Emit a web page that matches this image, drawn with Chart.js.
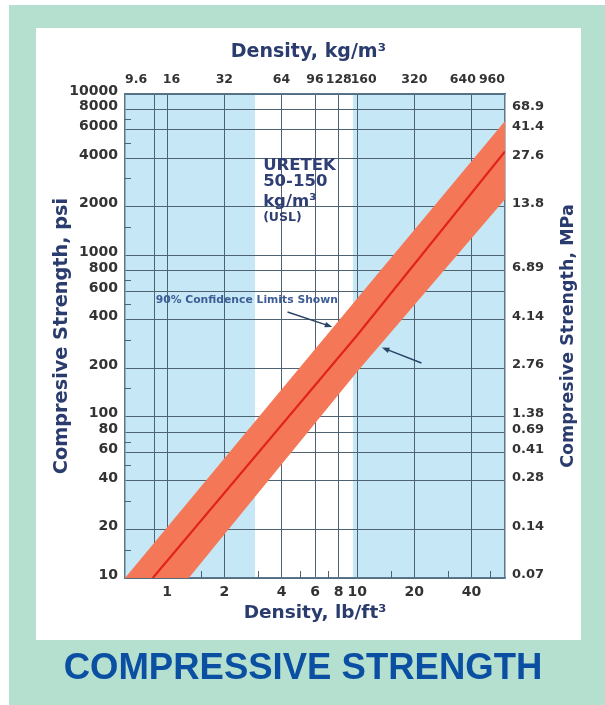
<!DOCTYPE html>
<html>
<head>
<meta charset="utf-8">
<title>Compressive Strength</title>
<script src="https://cdn.jsdelivr.net/npm/chart.js@4.4.1/dist/chart.umd.min.js"></script>
<style>
  html, body { margin: 0; padding: 0; background: #fff; }
  canvas { display: block; }
</style>
</head>
<body>
<canvas id="strengthChart" width="605" height="705"></canvas>
<script>
// nilai: densitas lb/ft3 vs kuat tekan psi
const densityTicks = [0.86, 1, 2, 4, 6, 8, 10, 20, 40];
const densityLabels = ["", "1", "2", "4", "6", "8", "10", "20", "40"];
const kgTicks = [0.6, 1, 2, 4, 6, 8, 10, 20, 40, 60];
const kgLabels = ["9.6", "  16", "32", "64", "96", "128", "   160", "320", "640    ", "960"];
const psiTicks = [10, 20, 40, 60, 80, 100, 200, 400, 600, 800, 1000, 2000, 4000, 6000, 8000, 10000];
const mpaTicks = [10, 20, 40, 60, 80, 100, 200, 400, 800, 2000, 4000, 6000, 8000];
const mpaLabels = ["0.07", "0.14", "0.28", "0.41", "0.69", "1.38", "2.76", "4.14", "6.89", "13.8", "27.6", "41.4", "68.9"];

const meanDensity = [0.84, 10, 60];
const meanPsi = [10, 320, 4400];
const upperDensity = [0.6, 10, 60];
const upperPsi = [10, 540, 6800];
const lowerDensity = [1.3, 10, 60];
const lowerPsi = [10, 190, 2230];

const uretekZone = [2.9, 9.5];
const minorDensity = [1.5, 3, 5, 7, 15, 30, 50];
const minorPsi = [15, 30, 50, 70, 150, 300, 500, 700, 1500, 3000, 5000, 7000];

const font = "'DejaVu Sans', sans-serif";
const arial = "'Liberation Sans', Arial, sans-serif";
const navy = "#2a3b6d";
const gridColor = "#4f6272";
const frameColor = "#5a778c";
const tickColor = "#333";

Chart.defaults.font.family = font;

const meanData = meanDensity.map((x, i) => ({ x: x, y: meanPsi[i] }));
const bandData = upperDensity.map((x, i) => ({ x: x, y: upperPsi[i] }))
    .concat(lowerDensity.map((x, i) => ({ x: x, y: lowerPsi[i] })).reverse());

// latar hijau, panel putih, area plot biru + pita putih URETEK
const latar = {
    id: "latar",
    beforeDraw(chart) {
        const { ctx, chartArea: a, scales } = chart;
        ctx.save();
        ctx.fillStyle = "#fff";
        ctx.fillRect(0, 0, chart.width, chart.height);
        ctx.fillStyle = "#b5e0d0";
        ctx.fillRect(9, 5, chart.width - 9, chart.height - 5);
        ctx.fillStyle = "#fff";
        ctx.fillRect(36, 28, 545, 612);
        ctx.fillStyle = "#c6e7f5";
        ctx.fillRect(a.left, a.top, a.width, a.height);
        const x0 = scales.x.getPixelForValue(uretekZone[0]);
        const x1 = scales.x.getPixelForValue(uretekZone[1]);
        ctx.fillStyle = "#fff";
        ctx.fillRect(x0, a.top, x1 - x0, a.height);
        ctx.restore();
    }
};

function panah(ctx, x0, y0, x1, y1) {
    const ang = Math.atan2(y1 - y0, x1 - x0);
    ctx.beginPath();
    ctx.moveTo(x0, y0);
    ctx.lineTo(x1 - 5 * Math.cos(ang), y1 - 5 * Math.sin(ang));
    ctx.stroke();
    ctx.beginPath();
    ctx.moveTo(x1, y1);
    ctx.lineTo(x1 - 8 * Math.cos(ang - 0.35), y1 - 8 * Math.sin(ang - 0.35));
    ctx.lineTo(x1 - 8 * Math.cos(ang + 0.35), y1 - 8 * Math.sin(ang + 0.35));
    ctx.closePath();
    ctx.fill();
}

const catatan = {
    id: "catatan",
    afterDraw(chart) {
        const { ctx, chartArea: a, scales: { x, y } } = chart;
        ctx.save();
        // tick kecil
        ctx.strokeStyle = gridColor;
        ctx.lineWidth = 1;
        minorDensity.forEach(v => {
            const px = Math.round(x.getPixelForValue(v)) + 0.5;
            ctx.beginPath(); ctx.moveTo(px, a.bottom); ctx.lineTo(px, a.bottom - 7); ctx.stroke();
        });
        minorPsi.forEach(v => {
            const py = Math.round(y.getPixelForValue(v)) + 0.5;
            ctx.beginPath(); ctx.moveTo(a.left, py); ctx.lineTo(a.left + 6, py); ctx.stroke();
        });

        // teks URETEK
        ctx.fillStyle = "#2f3f74";
        ctx.textAlign = "left";
        ctx.textBaseline = "middle";
        const tx = x.getPixelForValue(3.2);
        ctx.font = "bold 16.5px " + font;
        ctx.fillText("URETEK", tx, y.getPixelForValue(3600));
        ctx.fillText("50-150", tx, y.getPixelForValue(2850));
        ctx.fillText("kg/m³", tx, y.getPixelForValue(2150));
        ctx.font = "bold 12.5px " + font;
        ctx.fillText("(USL)", tx, y.getPixelForValue(1700));

        ctx.fillStyle = "#3d5d96";
        ctx.font = "bold 10.8px " + font;
        ctx.fillText("90% Confidence Limits Shown", x.getPixelForValue(0.87), y.getPixelForValue(530));

        ctx.strokeStyle = "#2a4466";
        ctx.fillStyle = "#2a4466";
        ctx.lineWidth = 1.5;
        panah(ctx, x.getPixelForValue(4.3), y.getPixelForValue(445), x.getPixelForValue(7.4), y.getPixelForValue(360));
        panah(ctx, x.getPixelForValue(21.8), y.getPixelForValue(215), x.getPixelForValue(13.5), y.getPixelForValue(268));

        // judul sumbu kanan
        ctx.save();
        ctx.translate(568, (a.top + a.bottom) / 2);
        ctx.rotate(-Math.PI / 2);
        ctx.textAlign = "center";
        ctx.fillStyle = navy;
        ctx.font = "bold 17.5px " + font;
        ctx.fillText("Compresive Strength, MPa", 0, 0);
        ctx.restore();

        // judul bawah
        ctx.textAlign = "center";
        ctx.fillStyle = "#0b4fa2";
        ctx.font = "bold 36.5px " + arial;
        ctx.fillText("COMPRESSIVE STRENGTH", 303, 669);
        ctx.restore();
    }
};

const tickFont = { size: 14, weight: "bold" };

new Chart(document.getElementById("strengthChart"), {
    type: "line",
    data: {
        datasets: [
            {
                label: "Rata-rata",
                data: meanData,
                borderColor: "#e2231a",
                borderWidth: 2.2,
                pointRadius: 0,
                fill: false,
                tension: 0
            },
            {
                label: "Batas 90%",
                data: bandData,
                borderWidth: 0,
                pointRadius: 0,
                backgroundColor: "#f47858",
                fill: "shape",
                tension: 0
            }
        ]
    },
    options: {
        responsive: false,
        animation: false,
        layout: { padding: { left: 36, right: 24, top: 28, bottom: 65 } },
        plugins: { legend: { display: false }, tooltip: { enabled: false } },
        scales: {
            x: {
                type: "logarithmic",
                position: "bottom",
                min: 0.6,
                max: 60,
                afterBuildTicks: s => { s.ticks = densityTicks.map(v => ({ value: v })); },
                afterFit: s => { s.height = 62; },
                ticks: {
                    autoSkip: false, maxRotation: 0, padding: 6, color: tickColor, font: tickFont,
                    callback: (v, i) => densityLabels[i]
                },
                grid: { color: gridColor, lineWidth: 1, drawTicks: false },
                border: { display: true, color: frameColor, width: 1.5 },
                title: { display: true, text: "Density, lb/ft³", color: navy, font: { size: 18.5, weight: "bold" }, padding: { top: 0, bottom: 16 } }
            },
            x2: {
                type: "logarithmic",
                position: "top",
                min: 0.6,
                max: 60,
                afterBuildTicks: s => { s.ticks = kgTicks.map(v => ({ value: v })); },
                afterFit: s => { s.height = 66; },
                ticks: {
                    autoSkip: false, maxRotation: 0, padding: 7, align: "inner", color: tickColor,
                    font: { size: 12.5, weight: "bold" },
                    callback: (v, i) => kgLabels[i]
                },
                grid: { display: false, drawTicks: false },
                border: { display: true, color: frameColor, width: 1.5 },
                title: { display: true, text: "Density, kg/m³  ", color: navy, font: { size: 19, weight: "bold" }, padding: { top: 13, bottom: 0 } }
            },
            y: {
                type: "logarithmic",
                position: "left",
                min: 10,
                max: 10000,
                afterBuildTicks: s => { s.ticks = psiTicks.map(v => ({ value: v })); },
                afterFit: s => { s.width = 89; },
                ticks: {
                    autoSkip: false, padding: 7, labelOffset: -3, color: tickColor, font: tickFont,
                    callback: v => String(v)
                },
                grid: { color: gridColor, lineWidth: 1, drawTicks: false },
                border: { display: true, color: frameColor, width: 1.5 },
                title: { display: true, text: "Compresive Strength, psi", color: navy, font: { size: 19.3, weight: "bold" }, padding: { top: 14, bottom: 0 } }
            },
            y2: {
                type: "logarithmic",
                position: "right",
                min: 10,
                max: 10000,
                afterBuildTicks: s => { s.ticks = mpaTicks.map(v => ({ value: v })); },
                afterFit: s => { s.width = 76; },
                ticks: {
                    autoSkip: false, padding: 7, labelOffset: -3, color: tickColor,
                    font: { size: 13, weight: "bold" },
                    callback: (v, i) => mpaLabels[i]
                },
                grid: { display: false, drawTicks: false },
                border: { display: true, color: frameColor, width: 1.5 }
            }
        }
    },
    plugins: [latar, catatan]
});
</script>
</body>
</html>
